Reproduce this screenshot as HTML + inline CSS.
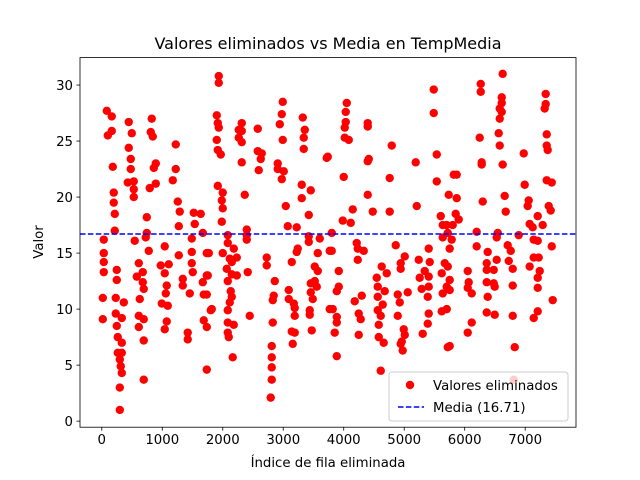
<!DOCTYPE html>
<html><head><meta charset="utf-8"><style>
body{margin:0;background:#fff;}
svg{display:block;font-family:"DejaVu Sans","Liberation Sans",sans-serif;}
</style></head><body>
<svg id="chart" width="640" height="480" xmlns="http://www.w3.org/2000/svg">
<rect width="640" height="480" fill="#fff"/>
<text x="328" y="49" text-anchor="middle" font-size="16" fill="#000">Valores eliminados vs Media en TempMedia</text>
<g id="marks"></g>
<rect x="80" y="57.6" width="496" height="369.6" fill="none" stroke="#000" stroke-width="0.8"/>
<g id="xticks"></g>
<g id="yticks"></g>
<text x="328" y="467" text-anchor="middle" font-size="13.3">Índice de fila eliminada</text>
<text transform="translate(43,242) rotate(-90)" text-anchor="middle" font-size="13.3">Valor</text>
<g>
<rect x="389" y="372" width="179" height="49" rx="3" fill="#fff" fill-opacity="0.8" stroke="#ccc" stroke-width="1"/>
<circle cx="410" cy="385" r="4.2" fill="red"/>
<text x="433" y="390" font-size="13.3">Valores eliminados</text>
<line x1="398" y1="407" x2="424" y2="407" stroke="blue" stroke-width="1.5" stroke-dasharray="5.5,2.4"/>
<text x="433" y="412" font-size="13.3">Media (16.71)</text>
</g>
</svg>
<script>
const xTicks=[0,1000,2000,3000,4000,5000,6000,7000];
const yTicks=[0,5,10,15,20,25,30];
const meanValue=16.71;
const idx=[83,165,100,165,446,496,826,810,843,1223,182,446,479,479,430,529,529,529,893,860,893,793,1223,1174,198,198,215,215,744,744,727,1256,1289,1273,1521,1636,1537,1670,1488,33,545,777,1041,33,33,33,248,248,612,678,579,678,694,628,975,1107,1041,1074,1058,992,1091,1273,1488,1488,1504,1339,1339,1455,1736,1736,1670,1686,17,231,364,17,231,331,248,264,331,264,331,298,314,331,298,298,612,694,612,694,694,1074,1041,1421,1421,1686,1736,1736,1802,1769,
1934,1934,1901,1918,1934,1901,1918,1967,2314,2265,2314,2265,2314,2579,2314,2579,2645,2628,2595,2992,2976,2943,2992,3323,3356,3339,3339,3719,2909,2909,3009,2976,1918,2000,1984,2000,1984,2364,3306,3455,3306,3042,3422,3075,3223,2397,2397,2397,2083,2083,1752,2000,2182,2232,2116,2149,2066,2149,2232,2083,2413,1752,1736,2132,2149,2116,2083,1818,2083,2182,2083,2099,2165,2446,2727,2727,2860,2843,2827,2827,2810,2810,2810,2810,2793,3141,3223,3240,3091,3091,3174,3190,3190,3141,3190,3157,3422,3422,3604,3571,3521,3571,3455,3521,3554,3455,3488,3438,3438,3471,3769,3769,
5488,5488,5538,5538,4050,4033,4033,4017,4017,4083,4397,4397,3736,4414,4397,4794,5190,4000,4760,4397,4149,3984,4116,4480,4760,5207,5604,5637,5637,3802,3802,4215,4232,4331,4232,4860,5009,4942,4942,3918,3918,3885,4628,4711,4546,4562,4678,4562,4645,4562,4612,4579,4579,4661,4612,4182,4298,4248,4281,4248,3818,3885,3885,3851,3885,5240,5339,5422,5405,5256,5405,5289,5389,5405,4893,4926,5058,4893,4992,5009,4942,4975,4959,5405,5389,5306,5620,5637,5620,5720,5670,5703,
6628,6265,6265,6612,6612,6579,6612,6579,6562,6579,6628,7339,7339,7322,7356,7356,7372,6248,6281,6281,6976,5819,5868,6992,7356,7439,5736,5868,6298,6661,7058,7041,7389,7422,6678,5851,5901,7207,7289,7074,7124,5802,5703,5720,5785,6198,6546,6529,6893,6198,6711,6761,7141,7207,7439,5752,6380,6728,6529,6364,6480,6364,6794,7141,7223,7074,7240,7207,6050,6066,6050,6116,5720,5752,5752,6364,6480,6496,6794,7207,6380,7455,6364,6496,6794,7207,7141,5703,6116,6050,5752,6827,6811];
const vals=[27.7,27.2,25.5,25.9,26.7,25.7,27.0,25.8,25.4,24.7,22.7,24.4,23.4,22.5,21.3,21.4,20.7,20.0,23.0,22.6,21.2,20.8,22.5,21.5,20.4,19.5,18.5,17.0,18.2,16.8,16.4,19.6,18.7,17.4,18.6,18.5,17.6,16.8,16.3,16.2,16.1,15.2,15.6,15.0,14.2,13.3,13.5,12.6,14.1,13.3,12.9,12.4,11.8,10.9,13.9,14.0,13.2,12.1,11.4,10.5,10.3,14.8,15.1,14.1,13.3,12.7,12.1,11.4,15.0,13.0,12.4,11.3,11.0,11.0,10.6,9.1,9.6,9.2,8.5,7.5,7.0,6.1,6.1,5.5,4.9,4.3,3.0,1.0,9.4,9.1,8.4,7.2,3.7,8.9,8.2,7.9,7.3,9.0,8.4,4.6,9.9,15.0,
30.8,30.2,27.3,26.6,26.2,25.1,24.2,23.8,26.6,26.0,25.9,25.3,24.9,26.1,23.1,24.1,23.9,23.4,22.4,28.5,27.4,26.5,25.1,27.1,26.0,25.3,24.3,23.5,23.0,22.5,22.3,21.6,21.0,20.4,19.7,19.0,17.8,20.2,21.1,20.6,19.9,19.2,18.4,17.4,17.3,17.1,16.6,16.2,16.6,15.9,15.0,15.0,15.4,14.6,14.5,14.2,13.6,13.1,13.0,12.5,13.3,13.0,11.3,11.6,11.1,10.6,9.9,10.0,8.8,8.6,7.9,7.5,5.7,9.4,14.6,13.9,12.5,11.2,10.8,8.8,6.7,5.7,4.8,3.7,2.1,14.2,15.1,15.4,11.7,10.9,10.5,10.1,9.4,8.0,7.9,6.9,16.5,16.0,16.3,15.0,13.8,13.4,12.3,12.5,12.0,11.5,10.9,9.9,9.5,8.1,10.0,15.2,
29.6,27.5,23.8,21.4,28.4,27.6,26.7,26.2,25.3,25.1,26.6,26.3,23.6,23.4,23.2,24.6,23.1,21.8,21.7,20.2,18.9,17.9,17.7,18.7,18.7,19.2,18.3,17.5,16.4,16.8,15.2,15.9,15.4,15.2,14.4,15.7,14.7,14.1,13.6,13.4,12.0,11.6,13.8,13.2,12.8,12.0,11.6,11.1,10.4,9.9,9.4,8.6,7.5,7.0,4.5,10.7,11.2,9.6,9.1,7.7,10.0,9.3,8.8,7.9,5.8,14.4,13.4,14.2,15.4,12.8,12.9,11.8,11.1,12.0,11.3,10.6,11.5,9.4,8.2,7.7,6.9,6.3,7.1,9.6,8.7,7.8,13.2,11.4,9.8,6.6,14.1,12.0,
31.0,30.1,29.4,28.9,28.4,27.9,27.6,27.0,25.7,24.6,22.9,29.2,28.3,27.9,25.6,24.6,24.2,25.3,23.1,22.9,23.9,22.0,22.0,21.1,21.5,21.3,20.2,19.9,19.6,20.1,19.7,19.2,19.2,18.8,18.7,18.5,18.0,18.3,17.5,17.6,17.3,17.5,17.5,16.8,16.2,16.9,16.8,16.4,16.6,15.6,15.7,15.2,16.2,16.1,15.6,15.4,15.1,14.3,14.4,14.1,13.5,13.5,13.6,14.6,14.6,13.8,13.4,12.8,13.4,12.4,11.9,11.4,13.8,12.6,11.7,12.4,12.3,12.0,12.1,11.9,11.1,10.8,9.7,9.5,9.4,9.8,9.2,10.0,8.8,7.9,6.7,6.6,3.7];
const NS='http://www.w3.org/2000/svg';
const L=80,R=576,T=57.6,B=427.2,XMIN=-360,XMAX=7840,YMIN=-0.54,YMAX=32.45;
function sx(v){return L+(v-XMIN)/(XMAX-XMIN)*(R-L);}
function sy(v){return B-(v-YMIN)/(YMAX-YMIN)*(B-T);}
function mk(tag,attrs){const e=document.createElementNS(NS,tag);for(const k in attrs)e.setAttribute(k,attrs[k]);return e;}
const marks=document.getElementById('marks');
for(let i=0;i<idx.length;i++){
  const c=mk('circle',{cx:sx(idx[i]),cy:sy(vals[i]),r:4.2,fill:'red'});
  
  
  marks.appendChild(c);
}
const ml=mk('line',{x1:L,x2:R,y1:sy(meanValue),y2:sy(meanValue),stroke:'blue','stroke-width':1.5,'stroke-dasharray':'5.5,2.4'});


marks.appendChild(ml);
const xg=document.getElementById('xticks');
xTicks.forEach(t=>{
  const x=sx(t);
  const ln=mk('line',{x1:x,x2:x,y1:B,y2:B+3.5,stroke:'#000','stroke-width':0.8});
  
  
  xg.appendChild(ln);
  const tx=mk('text',{x:x,y:B+17,'text-anchor':'middle','font-size':13.3});
  tx.textContent=t;
  
  
  xg.appendChild(tx);
});
const yg=document.getElementById('yticks');
yTicks.forEach(t=>{
  const y=sy(t);
  const ln=mk('line',{x1:L-3.5,x2:L,y1:y,y2:y,stroke:'#000','stroke-width':0.8});
  
  
  yg.appendChild(ln);
  const tx=mk('text',{x:L-7,y:y+4.8,'text-anchor':'end','font-size':13.3});
  tx.textContent=t;
  
  
  yg.appendChild(tx);
});
</script>
</body></html>
